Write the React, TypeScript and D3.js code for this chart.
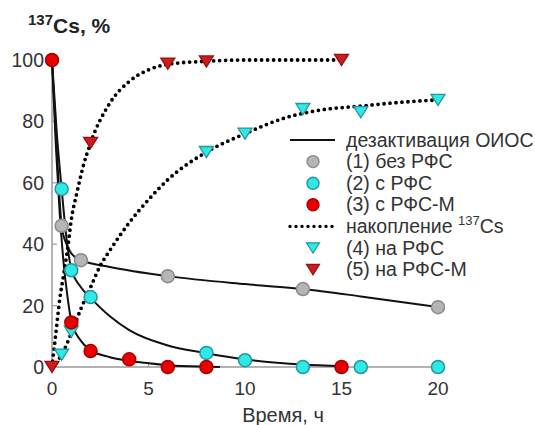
import React from "react";
import * as d3 from "d3";

type P = [number, number];

// Measured points
const noRfs: P[] = [[0.5, 46], [1.5, 34.8], [6, 29.6], [13, 25.4], [20, 19.5]];
const withRfs: P[] = [[0.5, 58], [1, 31.5], [2, 22.8], [8, 4.6], [10, 2.2], [13, 0], [16, 0], [20, 0]];
const withRfsM: P[] = [[0, 100], [1, 14.5], [2, 5.2], [4, 2.5], [6, 0], [8, 0], [15, 0]];
const onRfs: P[] = [[0.5, 4], [1, 11.5], [8, 70], [10, 76], [13, 84], [16, 83], [20, 87]];
const onRfsM: P[] = [[0, 0], [2, 73], [6, 98.8], [8, 99.5], [15, 100]];

// Fitted curves
const fitNoRfs: P[] = [[0, 100], [0.25, 70], [0.5, 46], [0.75, 40], [1, 37], [1.5, 34.8], [3, 32.6], [6, 29.6], [10, 27], [13, 25.4], [16, 23], [20, 19.5]];
const fitRfs: P[] = [[0, 100], [0.25, 76], [0.5, 58], [0.75, 42], [1, 32], [1.5, 26], [2, 22.5], [3, 16.5], [4, 12], [6, 7], [8, 4.5], [10, 2.5], [13, 0.8], [15, 0.3]];
const fitRfsM: P[] = [[0, 100], [0.2, 72], [0.4, 50], [0.6, 34], [0.8, 23], [1, 15], [1.5, 8.5], [2, 5.5], [3, 3.2], [4, 2], [6, 0.6], [8, 0.1], [8.7, 0]];
const accRfs: P[] = [[0, 0], [0.5, 4], [1, 11], [1.5, 19], [2, 26], [2.5, 33], [3, 38], [4, 47], [5, 54.5], [6, 61], [8, 70], [10, 76], [12, 81], [14, 83.8], [16, 85], [18, 86.2], [20, 87]];
const accRfsM: P[] = [[0, 0], [0.2, 11], [0.4, 22], [0.6, 30], [0.8, 38], [1, 48], [1.3, 57], [1.6, 65], [2, 73], [3, 86], [4, 93], [5, 96.8], [6, 98.6], [8, 99.6], [10, 100], [15, 100]];

const xTicks = [0, 5, 10, 15, 20];
const yTicks = [0, 20, 40, 60, 80, 100];

const FONT = "'Liberation Sans', Arial, sans-serif";
const GRAY = { fill: "#b5b5b5", stroke: "#8a8a8a" };
const CYAN = { fill: "#30e8e8", stroke: "#23989a" };
const RED = { fill: "#e80000", stroke: "#a80000" };
const RED_T = { fill: "#cc1c1c", stroke: "#941010" };

const x = d3.scaleLinear().domain([0, 20]).range([52, 438]);
const y = d3.scaleLinear().domain([0, 100]).range([367, 60]);
const line = d3.line<P>().x(d => x(d[0])).y(d => y(d[1])).curve(d3.curveMonotoneX);

const tri = (cx: number, cy: number, w: number) => {
  const h = w * 0.8;
  return `M${cx - w / 2},${cy - h / 2}L${cx + w / 2},${cy - h / 2}L${cx},${cy + h / 2}Z`;
};

export default function App() {
  const legendRows = [
    { kind: "line", label: "дезактивация ОИОС" },
    { kind: "circle", c: GRAY, label: "(1) без РФС" },
    { kind: "circle", c: CYAN, label: "(2) с РФС" },
    { kind: "circle", c: RED, label: "(3) с РФС-М" },
    { kind: "dots", label: "накопление " },
    { kind: "tri", c: CYAN, label: "(4) на РФС" },
    { kind: "tri", c: RED_T, label: "(5) на РФС-М" },
  ];
  return (
    <svg width={535} height={425} style={{ position: "absolute", left: 0, top: 0, background: "#fff" }} fontFamily={FONT}>
      <rect width={535} height={425} fill="#fff" />
      {/* axes */}
      <line x1={x(0)} x2={x(0)} y1={y(0)} y2={y(100)} stroke="#9a9a9a" strokeWidth={1.5} />
      <line x1={x(0)} x2={x(20)} y1={y(0)} y2={y(0)} stroke="#9a9a9a" strokeWidth={1.5} />
      {yTicks.map(t => (
        <g key={"y" + t}>
          <line x1={x(0)} x2={x(0) + 5} y1={y(t)} y2={y(t)} stroke="#9a9a9a" strokeWidth={1.2} />
          <text x={44} y={y(t) + 7} textAnchor="end" fontSize={19.5} fill="#333">{t}</text>
        </g>
      ))}
      {xTicks.map(t => (
        <g key={"x" + t}>
          <line x1={x(t)} x2={x(t)} y1={y(0)} y2={y(0) - 5} stroke="#9a9a9a" strokeWidth={1.2} />
          <text x={x(t)} y={395} textAnchor="middle" fontSize={19} fill="#333">{t}</text>
        </g>
      ))}
      <text x={283} y={422} textAnchor="middle" fontSize={20} fill="#333">Время, ч</text>
      <text x={28} y={33} fontSize={21} fontWeight="bold" fill="#222">
        <tspan fontSize={15} dy={-8}>137</tspan>
        <tspan dy={8}>Cs, %</tspan>
      </text>

      {/* curves */}
      {[fitNoRfs, fitRfs, fitRfsM].map((d, i) => (
        <path key={"f" + i} d={line(d) || ""} fill="none" stroke="#111" strokeWidth={2} />
      ))}
      {[accRfs, accRfsM].map((d, i) => (
        <path key={"a" + i} d={line(d) || ""} fill="none" stroke="#000" strokeWidth={3.8} strokeDasharray="0 6" strokeLinecap="round" />
      ))}

      {/* markers */}
      {noRfs.map((d, i) => <circle key={"g" + i} cx={x(d[0])} cy={y(d[1])} r={6.5} fill={GRAY.fill} stroke={GRAY.stroke} strokeWidth={1.5} />)}
      {withRfs.map((d, i) => <circle key={"c" + i} cx={x(d[0])} cy={y(d[1])} r={6.5} fill={CYAN.fill} stroke={CYAN.stroke} strokeWidth={1.5} />)}
      {onRfs.map((d, i) => <path key={"ct" + i} d={tri(x(d[0]), y(d[1]), 14)} fill={CYAN.fill} stroke={CYAN.stroke} strokeWidth={1.3} />)}
      {onRfsM.map((d, i) => <path key={"rt" + i} d={tri(x(d[0]), y(d[1]), 14)} fill={RED_T.fill} stroke={RED_T.stroke} strokeWidth={1.3} />)}
      {withRfsM.map((d, i) => <circle key={"r" + i} cx={x(d[0])} cy={y(d[1])} r={6.5} fill={RED.fill} stroke={RED.stroke} strokeWidth={1.5} />)}

      {/* legend */}
      {legendRows.map((r, i) => {
        const cy = 140 + i * 21.6;
        return (
          <g key={"l" + i}>
            {r.kind === "line" && <line x1={290} x2={335} y1={cy} y2={cy} stroke="#111" strokeWidth={2} />}
            {r.kind === "dots" && <line x1={290} x2={333} y1={cy} y2={cy} stroke="#000" strokeWidth={3.4} strokeDasharray="0 6" strokeLinecap="round" />}
            {r.kind === "circle" && <circle cx={313} cy={cy} r={6} fill={r.c!.fill} stroke={r.c!.stroke} strokeWidth={1.4} />}
            {r.kind === "tri" && <path d={tri(313, cy, 13)} fill={r.c!.fill} stroke={r.c!.stroke} strokeWidth={1.2} />}
            <text x={346} y={cy + 6.5} fontSize={19.5} fill="#333">
              {r.label}
              {r.kind === "dots" && <><tspan fontSize={13} dy={-8}>137</tspan><tspan dy={8}>Cs</tspan></>}
            </text>
          </g>
        );
      })}
    </svg>
  );
}
